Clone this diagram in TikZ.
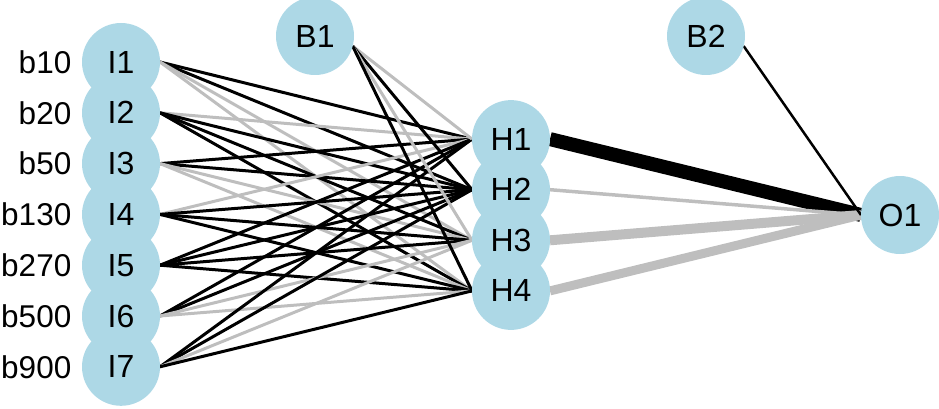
\documentclass[tikz,border=0pt]{standalone}
\usepackage{fontspec}
\setmainfont{Liberation Sans}
\usepackage{tikz}
\usetikzlibrary{backgrounds}
\definecolor{nodeblue}{HTML}{ADD8E6}
\definecolor{neggrey}{HTML}{BEBEBE}
\tikzset{
neuron/.style = {circle, fill=nodeblue, minimum size=#1,
                 inner sep=0pt, outer sep=0pt, font=\fontsize{32}{38}\selectfont},
neuron/.default = 78pt % diameter of the circle
}
\tikzset{
wpos/.style = {draw=black, line width=#1},
wpos/.default = 3pt,
wneg/.style = {draw=neggrey, line width=#1},
wneg/.default = 3pt
}
\tikzset{
inlabel/.style = {anchor=east, inner sep=0pt, font=\fontsize{31.5}{38}\selectfont}
}

\begin{document}
\begin{tikzpicture}[x=1pt, y=-1pt]
    \useasboundingbox (0,0) rectangle (939,409);
    \node[neuron] (I1) at (121,62) {I1};
    \node[neuron] (I2) at (121,112.8) {I2};
    \node[neuron] (I3) at (121,163.6) {I3};
    \node[neuron] (I4) at (121,214.4) {I4};
    \node[neuron] (I5) at (121,265.2) {I5};
    \node[neuron] (I6) at (121,316) {I6};
    \node[neuron] (I7) at (121,366.8) {I7};
    \node[inlabel] (b10) at (71.5,62) {b10};
    \node[inlabel] (b20) at (71.5,112.8) {b20};
    \node[inlabel] (b50) at (71.5,163.6) {b50};
    \node[inlabel] (b130) at (71.5,214.4) {b130};
    \node[inlabel] (b270) at (71.5,265.2) {b270};
    \node[inlabel] (b500) at (71.5,316) {b500};
    \node[inlabel] (b900) at (71.5,366.8) {b900};
    \node[neuron] (H1) at (511,139.1) {H1};
    \node[neuron] (H2) at (511,189.7) {H2};
    \node[neuron] (H3) at (511,240.3) {H3};
    \node[neuron] (H4) at (511,290.9) {H4};
    \node[neuron] (O1) at (900,215) {O1};
    \node[neuron] (B1) at (315,36) {B1};
    \node[neuron] (B2) at (706,36) {B2};

    \begin{scope}[on background layer]
    % input to hidden
    \draw[wpos] (I1.east) -- (H1.west);
    \draw[wpos] (I1.east) -- (H2.west);
    \draw[wneg] (I1.east) -- (H3.west);
    \draw[wneg] (I1.east) -- (H4.west);
    \draw[wneg] (I2.east) -- (H1.west);
    \draw[wpos] (I2.east) -- (H2.west);
    \draw[wpos] (I2.east) -- (H3.west);
    \draw[wpos] (I2.east) -- (H4.west);
    \draw[wpos] (I3.east) -- (H1.west);
    \draw[wpos] (I3.east) -- (H2.west);
    \draw[wneg] (I3.east) -- (H3.west);
    \draw[wneg] (I3.east) -- (H4.west);
    \draw[wneg] (I4.east) -- (H1.west);
    \draw[wpos] (I4.east) -- (H2.west);
    \draw[wpos] (I4.east) -- (H3.west);
    \draw[wpos] (I4.east) -- (H4.west);
    \draw[wpos] (I5.east) -- (H1.west);
    \draw[wpos] (I5.east) -- (H2.west);
    \draw[wpos] (I5.east) -- (H3.west);
    \draw[wpos] (I5.east) -- (H4.west);
    \draw[wpos] (I6.east) -- (H1.west);
    \draw[wpos] (I6.east) -- (H2.west);
    \draw[wneg] (I6.east) -- (H3.west);
    \draw[wneg] (I6.east) -- (H4.west);
    \draw[wpos] (I7.east) -- (H1.west);
    \draw[wpos] (I7.east) -- (H2.west);
    \draw[wneg] (I7.east) -- (H3.west);
    \draw[wpos] (I7.east) -- (H4.west);
    % bias to hidden
    \draw[wneg] (B1.-15) -- (H1.west);
    \draw[wpos] (B1.-15) -- (H2.west);
    \draw[wneg] (B1.-15) -- (H3.west);
    \draw[wpos] (B1.-15) -- (H4.west);
    % hidden to output
    \draw[wpos=14pt] (H1.east) -- (O1.west);
    \draw[wneg=3.5pt] (H2.east) -- (O1.west);
    \draw[wneg=10pt] (H3.east) -- (O1.west);
    \draw[wneg=9pt] (H4.east) -- (O1.west);
    \draw[wpos=2.5pt] (B2.-15) -- (O1.west);
    \end{scope}
\end{tikzpicture}
\end{document}
